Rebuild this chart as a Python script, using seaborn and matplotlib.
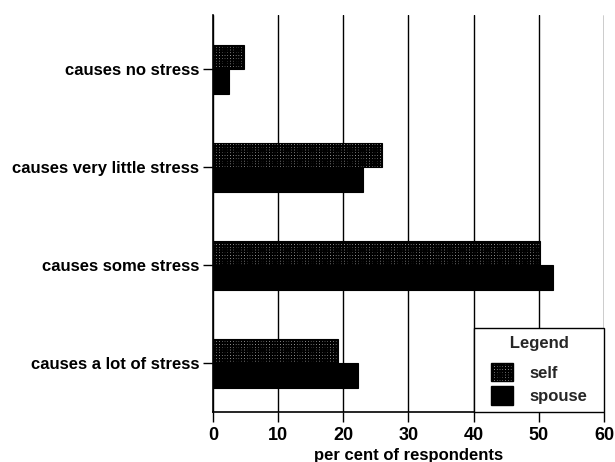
import matplotlib
matplotlib.use('Agg')
import matplotlib.pyplot as plt
import seaborn as sns
import pandas as pd
from matplotlib.patches import Patch

categories = ["causes no stress", "causes very little stress",
              "causes some stress", "causes a lot of stress"]
series = ["self", "spouse"]
self_vals = [4.7, 26.0, 50.2, 19.2]
spouse_vals = [2.5, 23.0, 52.2, 22.3]
x_ticks = [0, 10, 20, 30, 40, 50, 60]

df = pd.DataFrame({
    "category": categories * 2,
    "value": self_vals + spouse_vals,
    "who": ["self"] * len(categories) + ["spouse"] * len(categories),
})

sns.set_style("white")
plt.rcParams['font.family'] = ['Liberation Sans', 'DejaVu Sans']
plt.rcParams['hatch.linewidth'] = 1.4
plt.rcParams['hatch.color'] = 'black'

fig = plt.figure(figsize=(6.15, 4.62), dpi=100)
ax = fig.add_axes([0.3463, 0.1082, 0.6358, 0.8593])

SELF_FACE = '#dddddd'
sns.barplot(data=df, y="category", x="value", hue="who", order=categories,
            hue_order=series, palette={"self": SELF_FACE, "spouse": "black"},
            width=0.5, edgecolor="black", linewidth=0.8, ax=ax,
            legend=False, orient='h')

HATCH = '++++++'
for p in ax.containers[0]:
    p.set_hatch(HATCH)
    p.set_facecolor(SELF_FACE)

ax.set_xlim(0, 60)
ax.set_ylim(3.5, -0.551)
ax.set_xticks(x_ticks)
ax.set_axisbelow(True)
ax.xaxis.grid(True, color='black', linewidth=1.0)
ax.yaxis.grid(False)
for s in ['top', 'right']:
    ax.spines[s].set_visible(False)
for s in ['left', 'bottom']:
    ax.spines[s].set_visible(True)
    ax.spines[s].set_color('black')
    ax.spines[s].set_linewidth(1.2)

ax.tick_params(axis='x', direction='out', length=7, width=1, bottom=True,
               labelsize=13, pad=4, colors='black')
ax.tick_params(axis='y', direction='out', length=7, width=1, left=True,
               labelsize=12, pad=3, colors='black')
for t in ax.get_xticklabels() + ax.get_yticklabels():
    t.set_fontweight('bold')

ax.set_ylabel("")
ax.set_xlabel("per cent of respondents", fontsize=12, fontweight='bold',
              labelpad=3, color='black')

handles = [Patch(facecolor=SELF_FACE, edgecolor='black', hatch=HATCH, label='self'),
           Patch(facecolor='black', edgecolor='black', label='spouse')]
leg = ax.legend(handles=handles, title='      Legend      ', loc='lower right',
                bbox_to_anchor=(1, 0), borderaxespad=0, frameon=True,
                fancybox=False, edgecolor='black', framealpha=1,
                handlelength=1.3, handleheight=1.3, handletextpad=1.0,
                labelspacing=0.3, borderpad=0.45,
                title_fontproperties={'weight': 'bold', 'size': 12},
                prop={'weight': 'bold', 'size': 12})
leg._legend_box.sep = 9
leg.get_frame().set_linewidth(1.0)
leg.set_zorder(5)

fig.savefig("out.png", dpi=100)
